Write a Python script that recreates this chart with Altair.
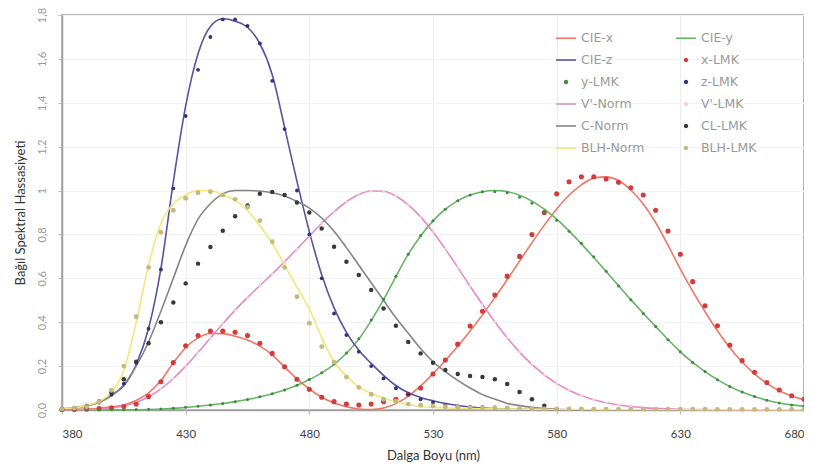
import altair as alt
import pandas as pd

# ---------------- data ----------------
wl_full = list(range(380, 681, 5))
wl_c = list(range(380, 581, 5))
wl_z = list(range(380, 561, 5))

cie_x = [0.001368, 0.002236, 0.004243, 0.00765, 0.01431, 0.02319, 0.04351, 0.07763, 0.13438, 0.21477,
         0.2839, 0.3285, 0.34828, 0.34806, 0.3362, 0.3187, 0.2908, 0.2511, 0.19536, 0.1421,
         0.09564, 0.05795, 0.03201, 0.0147, 0.0049, 0.0024, 0.0093, 0.0291, 0.06327, 0.1096,
         0.1655, 0.22575, 0.2904, 0.3597, 0.43345, 0.51205, 0.5945, 0.6784, 0.7621, 0.8425,
         0.9163, 0.9786, 1.0263, 1.0567, 1.0622, 1.0456, 1.0026, 0.9384, 0.85445, 0.7514,
         0.6424, 0.5419, 0.4479, 0.3608, 0.2835, 0.2187, 0.1649, 0.1212, 0.0874, 0.0636,
         0.04677]
cie_y = [0.000039, 0.000064, 0.00012, 0.000217, 0.000396, 0.00064, 0.00121, 0.00218, 0.004, 0.0073,
         0.0116, 0.01684, 0.023, 0.0298, 0.038, 0.048, 0.06, 0.0739, 0.09098, 0.1126,
         0.13902, 0.1693, 0.20802, 0.2586, 0.323, 0.4073, 0.503, 0.6082, 0.71, 0.7932,
         0.862, 0.91485, 0.954, 0.9803, 0.99495, 1.0, 0.995, 0.9786, 0.952, 0.9154,
         0.87, 0.8163, 0.757, 0.6949, 0.631, 0.5668, 0.503, 0.4412, 0.381, 0.321,
         0.265, 0.217, 0.175, 0.1382, 0.107, 0.0816, 0.061, 0.04458, 0.032, 0.0232,
         0.017]
cie_z = [0.00645, 0.01055, 0.02005, 0.03621, 0.06785, 0.1102, 0.2074, 0.3713, 0.6456, 1.03905,
         1.3856, 1.62296, 1.74706, 1.7826, 1.77211, 1.7441, 1.6692, 1.5281, 1.28764, 1.0419,
         0.813, 0.6162, 0.46518, 0.3533, 0.272, 0.2123, 0.1582, 0.1117, 0.07825, 0.05725,
         0.04216, 0.02984, 0.0203, 0.0134, 0.00875, 0.00575, 0.0039, 0.00275, 0.0021, 0.0018,
         0.00165, 0.0014, 0.0011, 0.001, 0.0008, 0.0006, 0.00034, 0.00024, 0.00019, 0.0001,
         0.00005, 0.00003, 0.00002, 0.00001, 0, 0, 0, 0, 0, 0,
         0]
v_norm = [0.000589, 0.001108, 0.002209, 0.004531, 0.00929, 0.01852, 0.03484, 0.0604, 0.0966, 0.1436,
          0.1998, 0.2625, 0.328, 0.3931, 0.455, 0.513, 0.567, 0.62, 0.676, 0.734,
          0.793, 0.851, 0.904, 0.949, 0.982, 0.998, 0.997, 0.975, 0.935, 0.88,
          0.811, 0.733, 0.65, 0.564, 0.481, 0.402, 0.3288, 0.2639, 0.2076, 0.1602,
          0.1212, 0.0899, 0.0655, 0.0469, 0.03315, 0.02312, 0.01593, 0.01088, 0.00737, 0.00497,
          0.003335, 0.002235, 0.001497, 0.001005, 0.000677, 0.000459, 0.000313, 0.000215, 0.000148, 0.000103,
          0.0000715]
c_norm = [0.004, 0.008, 0.017, 0.035, 0.065, 0.115, 0.20, 0.31, 0.45, 0.60,
          0.75, 0.87, 0.94, 0.985, 1.0, 1.0, 0.998, 0.99, 0.975, 0.95,
          0.92, 0.875, 0.815, 0.74, 0.66, 0.58, 0.50, 0.42, 0.35, 0.28,
          0.22, 0.175, 0.135, 0.10, 0.07, 0.05, 0.03, 0.02, 0.012, 0.007,
          0.003]
blh_norm = [0.005, 0.01, 0.02, 0.04, 0.08, 0.18, 0.40, 0.66, 0.85, 0.94,
            0.98, 1.0, 1.0, 0.98, 0.955, 0.91, 0.84, 0.76, 0.66, 0.56,
            0.46, 0.33, 0.22, 0.155, 0.105, 0.075, 0.055, 0.035, 0.025, 0.015,
            0.012, 0.01, 0.008, 0.007, 0.006, 0.005, 0.004, 0.004, 0.003, 0.003,
            0.002, 0.002, 0.002, 0.002, 0.001, 0.001, 0.001, 0.001, 0.001, 0.001,
            0.001, 0.001, 0.001, 0.001, 0.001, 0.001, 0.001, 0.001, 0.001, 0.001,
            0.001]

x_lmk = [0.002, 0.003, 0.005, 0.007, 0.01, 0.016, 0.027, 0.061, 0.129, 0.216,
         0.293, 0.339, 0.36, 0.36, 0.354, 0.339, 0.304, 0.258, 0.197, 0.14,
         0.094, 0.058, 0.038, 0.027, 0.023, 0.027, 0.038, 0.049, 0.072, 0.10,
         0.164, 0.228, 0.30, 0.383, 0.45, 0.524, 0.61, 0.70, 0.80, 0.90,
         0.985, 1.04, 1.063, 1.063, 1.053, 1.038, 1.013, 0.98, 0.91, 0.816,
         0.71, 0.585, 0.475, 0.384, 0.296, 0.225, 0.172, 0.125, 0.091, 0.065,
         0.049]
y_lmk = [0.0, 0.0, 0.0, 0.0, 0.001, 0.001, 0.002, 0.003, 0.005, 0.008,
         0.012, 0.017, 0.023, 0.03, 0.038, 0.048, 0.06, 0.074, 0.091, 0.113,
         0.139, 0.17, 0.21, 0.26, 0.325, 0.41, 0.505, 0.61, 0.71, 0.795,
         0.862, 0.915, 0.954, 0.98, 0.995, 0.995, 0.99, 0.97, 0.942, 0.905,
         0.865, 0.815, 0.76, 0.698, 0.632, 0.565, 0.502, 0.44, 0.38, 0.32,
         0.265, 0.217, 0.175, 0.138, 0.107, 0.082, 0.061, 0.045, 0.032, 0.023,
         0.017]
z_lmk = [0.006, 0.011, 0.02, 0.04, 0.07, 0.12, 0.215, 0.37, 0.64, 1.01,
         1.34, 1.55, 1.70, 1.78, 1.78, 1.75, 1.67, 1.50, 1.28, 1.0,
         0.80, 0.60, 0.44, 0.342, 0.266, 0.20, 0.144, 0.099, 0.072, 0.049,
         0.035, 0.023, 0.016, 0.014, 0.013, 0.012, 0.011]
v_lmk = [0.001, 0.001, 0.002, 0.005, 0.01, 0.019, 0.035, 0.06, 0.097, 0.144,
         0.2, 0.262, 0.327, 0.393, 0.455, 0.512, 0.567, 0.62, 0.675, 0.733,
         0.792, 0.85, 0.903, 0.948, 0.98, 0.997, 0.996, 0.975, 0.935, 0.88,
         0.81, 0.733, 0.65, 0.564, 0.481, 0.402, 0.329, 0.264, 0.208, 0.16,
         0.121, 0.09, 0.066, 0.047, 0.033, 0.023, 0.016, 0.011, 0.007, 0.005,
         0.003, 0.002, 0.002, 0.001, 0.001, 0.0, 0.0, 0.0, 0.0, 0.0,
         0.0]
cl_lmk = [0.003, 0.006, 0.015, 0.035, 0.08, 0.14, 0.22, 0.304, 0.40, 0.49,
          0.577, 0.667, 0.743, 0.817, 0.883, 0.932, 0.985, 0.993, 0.98, 0.946,
          0.90, 0.827, 0.744, 0.676, 0.615, 0.547, 0.463, 0.384, 0.31, 0.258,
          0.215, 0.182, 0.164, 0.155, 0.15, 0.14, 0.118, 0.082, 0.049, 0.019,
          0.004]
blh_lmk = [0.004, 0.008, 0.015, 0.035, 0.09, 0.2, 0.425, 0.65, 0.81, 0.91,
           0.965, 0.99, 0.995, 0.98, 0.96, 0.924, 0.863, 0.767, 0.65, 0.516,
           0.395, 0.289, 0.218, 0.15, 0.103, 0.072, 0.049, 0.04, 0.027, 0.022,
           0.018, 0.015, 0.013, 0.011, 0.01, 0.009, 0.008, 0.007, 0.006, 0.005,
           0.005, 0.005, 0.005, 0.004, 0.004, 0.004, 0.004, 0.004, 0.004, 0.004,
           0.004, 0.004, 0.004, 0.003, 0.003, 0.003, 0.003, 0.003, 0.003, 0.003,
           0.003]

names = ["CIE-x", "CIE-y", "CIE-z", "x-LMK", "y-LMK", "z-LMK",
         "V'-Norm", "V'-LMK", "C-Norm", "CL-LMK", "BLH-Norm", "BLH-LMK"]
colors = ["#ee7766", "#66b466", "#55559f", "#d23c3c", "#3d8c3d", "#343478",
          "#e48cc2", "#f0d2e2", "#858585", "#383838", "#f1e77a", "#c6b97e"]

x_ticks = [380, 430, 480, 530, 580, 630, 680]
y_ticks = [0, 0.2, 0.4, 0.6, 0.8, 1.0, 1.2, 1.4, 1.6, 1.8]

# ---------------- build tables ----------------
line_series = [("CIE-x", wl_full, cie_x), ("CIE-y", wl_full, cie_y), ("CIE-z", wl_full, cie_z),
               ("V'-Norm", wl_full, v_norm), ("C-Norm", wl_c, c_norm), ("BLH-Norm", wl_full, blh_norm)]
point_series = [("V'-LMK", wl_full, v_lmk), ("x-LMK", wl_full, x_lmk), ("y-LMK", wl_full, y_lmk),
                ("z-LMK", wl_z, z_lmk), ("CL-LMK", wl_c, cl_lmk), ("BLH-LMK", wl_full, blh_lmk)]

for n, w, v in line_series + point_series:
    assert len(w) == len(v), n


def to_df(series):
    rows = []
    for n, w, v in series:
        for a, b in zip(w, v):
            rows.append({"series": n, "wl": a, "v": b})
    return pd.DataFrame(rows)


lines_df = to_df(line_series)
points_df = to_df(point_series)
all_df = pd.concat([lines_df, points_df], ignore_index=True)

color_of = dict(zip(names, colors))
point_size = {"x-LMK": 26, "y-LMK": 9, "z-LMK": 15, "V'-LMK": 9, "CL-LMK": 20, "BLH-LMK": 24}

LINE_PATH = "M-1,-0.08H1V0.08H-1Z"
DOT_PATH = "M-0.22,0A0.22,0.22,0,1,1,0.22,0A0.22,0.22,0,1,1,-0.22,0Z"

# the legend fills column by column: order entries so rows read as in the original
legend_order = names[0::2] + names[1::2]
legend_colors = [color_of[n] for n in legend_order]
legend_shapes = [DOT_PATH if "LMK" in n else LINE_PATH for n in legend_order]

color_scale = alt.Scale(domain=legend_order, range=legend_colors)
shape_scale = alt.Scale(domain=legend_order, range=legend_shapes)

X = alt.X("wl:Q", scale=alt.Scale(domain=[380, 680], nice=False, zero=False),
          axis=alt.Axis(values=x_ticks, title="Dalga Boyu (nm)", format="d",
                        labelColor="#404040", labelFontSize=11.5, labelPadding=14,
                        titlePadding=10, gridColor="#ededed"))
Y = alt.Y("v:Q", scale=alt.Scale(domain=[0, 1.8], nice=False),
          axis=alt.Axis(values=y_ticks, title="Bağıl Spektral Hassasiyeti",
                        labelExpr="datum.value == 0 ? '0,0' : replace(format(datum.value, '.1~f'), '.', ',')",
                        labelAngle=270, labelAlign="center", labelBaseline="bottom",
                        labelColor="#9a9a9a", labelFontSize=11, labelPadding=11,
                        titlePadding=9, gridColor="#f3f3f3"))

layers = []
# transparent layer that only carries the combined legend
leg = alt.Legend(title=None, orient="none", legendX=493, legendY=12, columns=2,
                 symbolSize=400, labelFont="DejaVu Sans", labelFontSize=12.5,
                 labelColor="#9a9a9a", labelOffset=4, rowPadding=4, columnPadding=28,
                 symbolOpacity=1)
legend_layer = alt.Chart(all_df).mark_point(filled=True, opacity=0, size=1).encode(
    x=X, y=Y,
    color=alt.Color("series:N", scale=color_scale, legend=leg),
    shape=alt.Shape("series:N", scale=shape_scale, legend=leg),
)
layers.append(legend_layer)

for n, w, v in line_series:
    layers.append(
        alt.Chart(lines_df).transform_filter(alt.datum.series == n).mark_line(
            strokeWidth=1.6, interpolate="monotone", color=color_of[n]
        ).encode(x=X, y=Y)
    )

for n, w, v in point_series:
    layers.append(
        alt.Chart(points_df).transform_filter(alt.datum.series == n).mark_point(
            filled=True, opacity=1, size=point_size[n], color=color_of[n]
        ).encode(x=X, y=Y)
    )

chart = alt.layer(*layers).properties(
    width=742, height=395,
    autosize=alt.AutoSizeParams(type="none"),
    padding={"left": 54, "top": 7, "right": 0, "bottom": 55},
).configure_view(
    stroke="#a0a0a0", strokeWidth=1.5
).configure_axis(
    labelFont="Lato", titleFont="Lato", titleFontSize=13, titleFontWeight="normal",
    titleColor="#333333", domainColor="#a0a0a0", domainWidth=1.5,
    tickColor="#bdbdbd", tickSize=4, grid=True,
)

chart.save("out.html", embed_options={"renderer": "svg", "actions": False})
